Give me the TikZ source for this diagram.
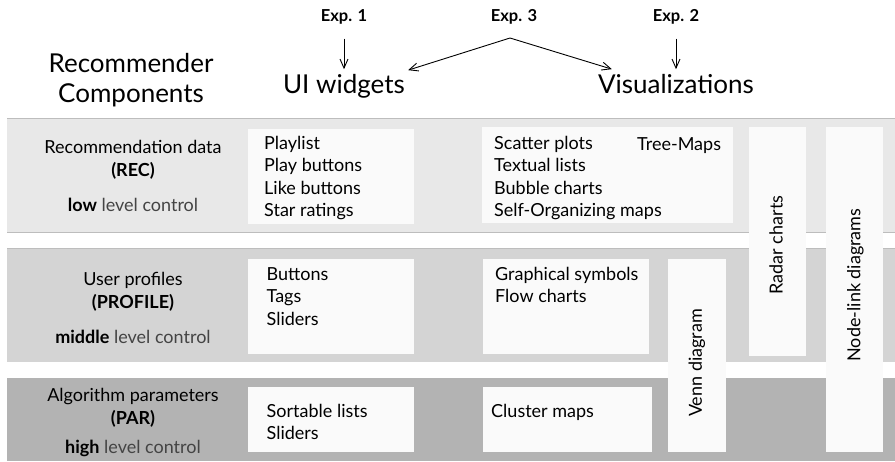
\documentclass[tikz,border=0pt]{standalone}
\usepackage{fontspec}
\setmainfont{Lato}
\usetikzlibrary{arrows.meta,positioning}
\definecolor{recgray}{HTML}{E8E8E8}
\definecolor{profgray}{HTML}{D4D4D4}
\definecolor{pargray}{HTML}{B3B3B3}
\definecolor{edgegray}{HTML}{BDBDBD}
\definecolor{panelwhite}{HTML}{FAFAFA}
\definecolor{softtext}{HTML}{444444}

\begin{document}
\begin{tikzpicture}[x=1pt, y=-1pt,
  every node/.style = {inner sep=0pt, font=\fontsize{18}{22.5}\selectfont},
  panel/.style = {fill=panelwhite, draw=none},
  items/.style = {align=left, anchor=base west},
  layer/.style = {align=center, anchor=base},
  ctrl/.style = {anchor=base, text=softtext},
  heading/.style = {align=center, font=\fontsize{26}{30}\selectfont},
  exp/.style = {font=\fontsize{16.5}{18}\selectfont\bfseries},
  pointer/.style = {-{Straight Barb[length=9pt,width=8pt]}, line width=0.9pt}]
  \useasboundingbox (0,0) rectangle (895,461);

  % layers
  \fill[recgray] (7,118) rectangle (895,232);
  \fill[profgray] (7,248) rectangle (895,362);
  \fill[pargray] (7,378) rectangle (895,461);
  \draw[edgegray] (7,118) -- (895,118) (7,232) -- (895,232) (7,248) -- (895,248);

  % panels
  \fill[panel] (248,129) rectangle (414,224);
  \fill[panel] (248,259) rectangle (414,354);
  \fill[panel] (248,387) rectangle (414,452);
  \fill[panel] (482,127) rectangle (733,223);
  \fill[panel] (483,259) rectangle (649,354);
  \fill[panel] (483,387) rectangle (652,452);
  \fill[panel] (668,259) rectangle (726,452);
  \fill[panel] (749,127) rectangle (806,356);
  \fill[panel] (826,127) rectangle (883,452);

  % header
  \node[heading, anchor=base] (comp) at (131,102) {Recommender\\Components};
  \node[heading, anchor=base] (uiw) at (344,93.5) {UI widgets};
  \node[heading, anchor=base] (vis) at (676,93.5) {Visualizations};
  \node[exp] (exp1) at (344,17) {Exp. 1};
  \node[exp] (exp3) at (514,17) {Exp. 3};
  \node[exp] (exp2) at (676,17) {Exp. 2};
  \coordinate (fork) at (510,38);
  \draw[pointer] ([yshift=-14pt]exp1.south) -- ([yshift=5pt]uiw.north);
  \draw[pointer] ([yshift=-14pt]exp2.south) -- ([yshift=5pt]vis.north);
  \draw[pointer] (fork) -- ([xshift=3pt,yshift=4pt]uiw.north east);
  \draw[pointer] (fork) -- ([xshift=14pt,yshift=5pt]vis.north west);

  % layer labels (anchored on the last line)
  \node[layer] (rec) at (133,176) {Recommendation data\\\textbf{(REC)}};
  \node[ctrl] (recctrl) at (133,211.5) {\textcolor{black}{\textbf{low}} level control};
  \node[layer] (prof) at (133,308) {User profiles\\\textbf{(PROFILE)}};
  \node[ctrl] (profctrl) at (133,343) {\textcolor{black}{\textbf{middle}} level control};
  \node[layer] (par) at (133,424) {Algorithm parameters\\\textbf{(PAR)}};
  \node[ctrl] (parctrl) at (133,453) {\textcolor{black}{\textbf{high}} level control};

  % UI widgets
  \node[items] (uirec) at (264,216.5) {Playlist\\Play buttons\\Like buttons\\Star ratings};
  \node[items] (uiprof) at (266.5,325) {Buttons\\Tags\\Sliders};
  \node[items] (uipar) at (266.5,439.5) {Sortable lists\\Sliders};

  % visualizations
  \node[items] (visrec) at (494,216.5) {Scatter plots\\Textual lists\\Bubble charts\\Self-Organizing maps};
  \node[items] (tree) at (637,150) {Tree-Maps};
  \node[items] (visprof) at (495,302.5) {Graphical symbols\\Flow charts};
  \node[items] (vispar) at (491,417) {Cluster maps};
  \node[rotate=90] (venn) at (697,363) {Venn diagram};
  \node[rotate=90] (radar) at (776,245) {Radar charts};
  \node[rotate=90] (nodelink) at (855.5,285) {Node-link diagrams};
\end{tikzpicture}
\end{document}
